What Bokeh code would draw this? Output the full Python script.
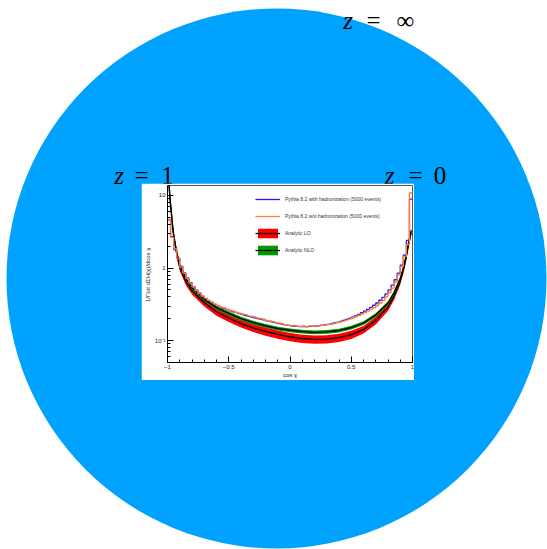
import numpy as np
from bokeh.plotting import figure
from bokeh.layouts import column
from bokeh.models import Range1d, FixedTicker, Legend, LegendItem, Plot
from bokeh.core.properties import value
from bokeh.embed import file_html
from bokeh.resources import INLINE

# ---------------- data ----------------
# analytic curves (cos chi sample points)
cos_pts = [-0.99, -0.98, -0.97, -0.96, -0.95, -0.93, -0.9, -0.85, -0.8, -0.7, -0.6, -0.5,
           -0.4, -0.3, -0.2, -0.1, 0.0, 0.1, 0.2, 0.3, 0.4, 0.5, 0.6, 0.7, 0.8, 0.85,
           0.9, 0.93, 0.95, 0.97, 0.99]
lo_mid = [16.0, 9.0, 6.0, 3.9, 2.8, 1.75, 1.02, 0.66, 0.49, 0.335, 0.25, 0.205,
          0.172, 0.150, 0.134, 0.122, 0.113, 0.107, 0.104, 0.105, 0.110, 0.121, 0.142,
          0.19, 0.29, 0.41, 0.66, 1.0, 1.45, 2.2, 3.1]
lo_unc = [0.07, 0.08, 0.09, 0.10, 0.10, 0.11, 0.11, 0.12, 0.12, 0.12, 0.12, 0.12,
          0.12, 0.12, 0.13, 0.13, 0.13, 0.13, 0.13, 0.13, 0.13, 0.13, 0.12,
          0.12, 0.12, 0.11, 0.11, 0.10, 0.10, 0.09, 0.08]
nlo_mid = [16.8, 9.5, 6.3, 4.1, 2.95, 1.85, 1.09, 0.71, 0.535, 0.37, 0.285, 0.237,
           0.201, 0.177, 0.160, 0.147, 0.139, 0.133, 0.130, 0.132, 0.138, 0.151, 0.175,
           0.225, 0.33, 0.46, 0.72, 1.07, 1.55, 2.35, 3.3]
nlo_unc = [0.04, 0.05, 0.05, 0.05, 0.06, 0.06, 0.06, 0.06, 0.06, 0.06, 0.06, 0.06,
           0.06, 0.06, 0.06, 0.06, 0.06, 0.06, 0.06, 0.06, 0.06, 0.06, 0.06,
           0.06, 0.06, 0.06, 0.06, 0.05, 0.05, 0.05, 0.05]

# Pythia histograms: 80 bins on [-1, 1]
n_bins = 80
hist_lo, hist_hi = -1.0, 1.0
pythia_nohad = [4.7, 2.65, 1.84, 1.34, 1.03, 0.85, 0.72, 0.62, 0.55, 0.49,
                0.445, 0.41, 0.385, 0.36, 0.34, 0.318, 0.305, 0.29, 0.283, 0.272,
                0.262, 0.255, 0.246, 0.240, 0.232, 0.228, 0.219, 0.215, 0.212, 0.205,
                0.200, 0.197, 0.190, 0.186, 0.183, 0.178, 0.174, 0.170, 0.166, 0.163,
                0.160, 0.162, 0.158, 0.157, 0.159, 0.155, 0.160, 0.157, 0.161, 0.160,
                0.163, 0.165, 0.166, 0.170, 0.172, 0.177, 0.181, 0.186, 0.192, 0.198,
                0.205, 0.213, 0.222, 0.232, 0.243, 0.255, 0.270, 0.285, 0.305, 0.330,
                0.360, 0.400, 0.460, 0.530, 0.640, 0.800, 1.05, 1.45, 2.1, 10.8]
pythia_had = [4.6, 2.7, 1.8, 1.36, 1.05, 0.86, 0.73, 0.63, 0.555, 0.495,
              0.45, 0.41, 0.38, 0.355, 0.335, 0.315, 0.300, 0.287, 0.278, 0.268,
              0.258, 0.250, 0.243, 0.236, 0.229, 0.222, 0.216, 0.211, 0.206, 0.201,
              0.197, 0.193, 0.188, 0.184, 0.180, 0.176, 0.172, 0.168, 0.165, 0.162,
              0.160, 0.158, 0.157, 0.156, 0.156, 0.156, 0.157, 0.158, 0.159, 0.161,
              0.163, 0.165, 0.168, 0.171, 0.175, 0.179, 0.184, 0.190, 0.196, 0.203,
              0.211, 0.220, 0.230, 0.242, 0.255, 0.270, 0.287, 0.307, 0.330, 0.360,
              0.395, 0.440, 0.500, 0.580, 0.690, 0.850, 1.10, 1.50, 2.4, 8.9]

x_major = [-1, -0.5, 0, 0.5, 1]
x_major_labels = ["\u22121", "\u22120.5", "0", "0.5", "1"]
y_major = [0.1, 1, 10]
y_major_labels = ["10\u207b\u00b9", "1", "10"]

legend_labels = ["Pythia 8.2 with hadronization (5000 events)",
                 "Pythia 8.2 w/o hadronization (5000 events)",
                 "Analytic LO", "Analytic NLO"]

# outer decoration (window pixel coordinates)
circle_cx, circle_cy, circle_r = 276, 278, 270
label_vars = ["z", "z", "z"]
label_vals = ["\u221e", "1", "0"]
label_z_x = [347.5, 118.5, 389]
label_eq_x = [373, 141, 415]
label_val_x = [405, 167, 439.5]
label_base_y = [20, 175, 175]

# ---------------- layout helpers ----------------
W, H = 547, 549
INNER_LEFT = 26
has_frame_align = "frame_align" in Plot.properties()
# if plot frames of a column cannot be un-aligned, the outer frame starts at INNER_LEFT
x_start = 0 if has_frame_align else INNER_LEFT

# ---------------- outer figure (whole window) ----------------
outer = figure(width=W, height=H, x_range=Range1d(x_start, W), y_range=Range1d(H, 0),
               output_backend="svg", toolbar_location=None,
               min_border=0, min_border_left=0, min_border_right=0,
               min_border_top=0, min_border_bottom=0,
               x_axis_location=None, y_axis_location=None)
outer.grid.visible = False
outer.outline_line_color = None
outer.background_fill_color = "white"
outer.border_fill_color = "white"
outer.circle(x=[circle_cx], y=[circle_cy], radius=circle_r,
             fill_color="#00A2FF", line_color=None)

common = dict(text_font=value("Liberation Serif"), text_font_size="25px",
              text_align="center", text_baseline="alphabetic", text_color="black")
outer.text(x=label_z_x, y=label_base_y, text=label_vars, text_font_style="italic", **common)
outer.text(x=label_eq_x, y=label_base_y, text=["="] * 3, **common)
outer.text(x=label_val_x, y=label_base_y, text=label_vals, **common)

# ---------------- inner figure ----------------
inner = figure(frame_width=245, frame_height=177, x_range=Range1d(-1, 1),
               y_range=Range1d(0.05, 13.7), y_axis_type="log",
               output_backend="svg", toolbar_location=None,
               min_border_left=INNER_LEFT, min_border_right=2, min_border_top=2,
               min_border_bottom=17)
if has_frame_align:
    outer.frame_align = False
    inner.frame_align = False
# top-left corner of the inner panel at window (141, 183)
inner.margin = (183 - H, 0, 160, 141)
inner.grid.visible = False
inner.outline_line_color = "#555555"
inner.outline_line_width = 1
inner.background_fill_color = "white"
inner.border_fill_color = "white"

cp = np.array(cos_pts)
lm, lu = np.array(lo_mid), np.array(lo_unc)
nm, nu = np.array(nlo_mid), np.array(nlo_unc)

lo_band = inner.varea(x=cp, y1=lm * (1 - lu), y2=lm * (1 + lu), fill_color="#FF0000")
lo_line = inner.line(cp, lm, line_color="black", line_width=1.3)
nlo_band = inner.varea(x=cp, y1=nm * (1 - nu), y2=nm * (1 + nu), fill_color="#009A00")
nlo_line = inner.line(cp, nm, line_color="black", line_width=1.3)

edges = np.linspace(hist_lo, hist_hi, n_bins + 1)
had = inner.step(edges, list(pythia_had) + [pythia_had[-1]], mode="after",
                 line_color="#2A14FF", line_width=1.3)
nohad = inner.step(edges, list(pythia_nohad) + [pythia_nohad[-1]], mode="after",
                   line_color="#FF7F2A", line_width=1.3)

xa = inner.xaxis[0]
xa.ticker = FixedTicker(ticks=x_major, minor_ticks=list(np.round(np.arange(-1, 1.0001, 0.1), 2)))
xa.major_label_overrides = {float(t): l for t, l in zip(x_major, x_major_labels)}
xa.axis_label = "cos \u03c7"
xa.axis_label_standoff = 0
xa.major_label_standoff = 2

ya = inner.yaxis[0]
ym = [0.05, 0.06, 0.07, 0.08, 0.09] + [0.2, 0.3, 0.4, 0.5, 0.6, 0.7, 0.8, 0.9] + [2, 3, 4, 5, 6, 7, 8, 9]
ya.ticker = FixedTicker(ticks=y_major, minor_ticks=ym)
ya.major_label_overrides = {float(t): l for t, l in zip(y_major, y_major_labels)}
ya.axis_label = "1/\u0393tot  d\u03a3H(\u03c7)/dcos \u03c7"
ya.axis_label_standoff = 1
ya.major_label_standoff = 2

for ax in (xa, ya):
    ax.major_tick_in = 6
    ax.major_tick_out = 0
    ax.minor_tick_in = 3
    ax.minor_tick_out = 0
    ax.axis_line_color = "black"
    ax.major_tick_line_color = "black"
    ax.minor_tick_line_color = "black"
    ax.major_label_text_font = "Liberation Sans"
    ax.major_label_text_font_size = "6px"
    ax.major_label_text_color = "#222222"
    ax.axis_label_text_font = "Liberation Sans"
    ax.axis_label_text_font_size = "6px"
    ax.axis_label_text_font_style = "normal"
    ax.axis_label_text_color = "#222222"

legend = Legend(items=[LegendItem(label=legend_labels[0], renderers=[had]),
                       LegendItem(label=legend_labels[1], renderers=[nohad]),
                       LegendItem(label=legend_labels[2], renderers=[lo_band, lo_line]),
                       LegendItem(label=legend_labels[3], renderers=[nlo_band, nlo_line])],
                location=(88, 106), glyph_width=25, glyph_height=12, label_height=12,
                spacing=5, padding=0, margin=0, label_standoff=5,
                label_text_font="Liberation Sans", label_text_font_size="5px",
                label_text_color="#333333", border_line_color=None,
                background_fill_alpha=0)
inner.add_layout(legend)

layout = column(outer, inner)

open("out.html", "w").write(file_html(layout, INLINE))
